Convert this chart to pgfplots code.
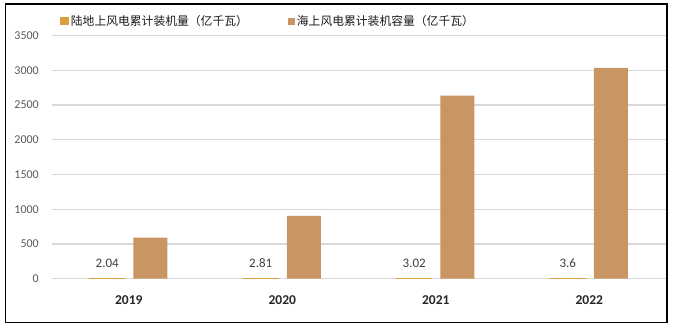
\documentclass[border=0pt]{standalone}
\usepackage{pgfplots}
\pgfplotsset{compat=1.18}
\usepackage{fontspec}
\setmainfont{Carlito}
\newfontfamily\cjk{Noto Sans CJK SC}
\definecolor{onshore}{RGB}{218,160,60}
\definecolor{offshore}{RGB}{201,149,98}
\definecolor{gridc}{RGB}{217,217,217}
\definecolor{tickc}{RGB}{89,89,89}
\begin{document}
\begin{tikzpicture}
\path (0,0) rectangle (676bp,333bp);
\draw[black, line width=1.3bp] (5.5bp,10.5bp) rectangle (667bp,329bp);
\begin{axis}[
  at={(52bp,54.3bp)}, anchor=south west,
  scale only axis, width=614bp, height=243.2bp,
  ymin=0, ymax=3500, ytick={0,500,...,3500},
  xmin=-0.5, xmax=3.5, xtick={0,1,2,3},
  xticklabels={2019,2020,2021,2022},
  axis line style={draw=none},
  major tick length=0pt,
  ymajorgrids, grid style={gridc, line width=1.3bp},
  /pgf/number format/assume math mode=true,
  /pgf/number format/1000 sep={},
  yticklabel style={font=\fontsize{12bp}{14bp}\selectfont, text=tickc, anchor=east, inner sep=0pt},
  yticklabel shift=13bp,
  xticklabel style={font=\fontsize{13.5bp}{16bp}\selectfont\bfseries, text=black!85, anchor=center, inner sep=0pt},
  xticklabel shift=21.3bp,
  ybar=9bp, bar width=34bp,
  legend style={at={(0.352,1)}, anchor=center, yshift=14.5bp, draw=none, fill=none,
    font=\cjk\fontsize{11.8bp}{14bp}\selectfont, text=black!90,
    legend columns=2, /tikz/every even column/.append style={column sep=38bp},
    inner sep=0pt},
  legend image code/.code={\fill[#1] (0bp,-3.5bp) rectangle (7bp,3.5bp);},
  legend cell align=left,
]
\addplot[fill=onshore, draw=onshore, line width=1.6bp,
  nodes near coords,
  nodes near coords style={font=\fontsize{13bp}{15bp}\selectfont, text=black!75, anchor=center, yshift=15.4bp, /pgf/number format/assume math mode=true}]
  coordinates {(0,2.04) (1,2.81) (2,3.02) (3,3.6)};
\addplot[fill=offshore, draw=none]
  coordinates {(0,590) (1,903) (2,2633) (3,3035)};
\legend{陆地上风电累计装机量（亿千瓦）, 海上风电累计装机容量（亿千瓦）}
\end{axis}
\end{tikzpicture}
\end{document}
